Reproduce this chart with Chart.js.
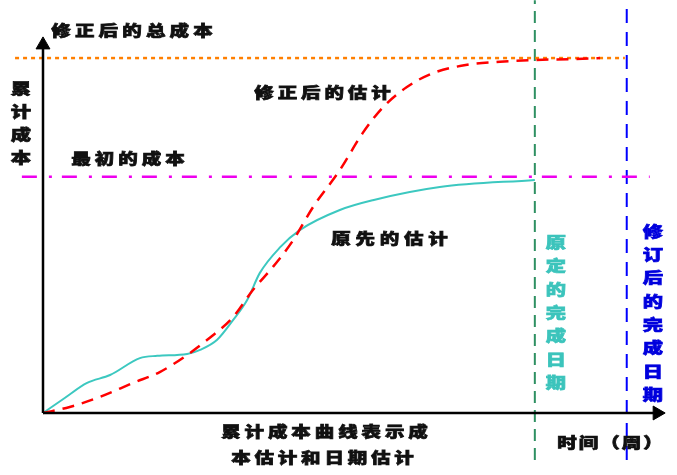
<!DOCTYPE html>
<html><head><meta charset="utf-8">
<script src="https://cdn.jsdelivr.net/npm/chart.js@4/dist/chart.umd.min.js"></script>
<style>html,body{margin:0;padding:0;background:#fff}#wrap{width:677px;height:475px}</style>
</head><body><div id="wrap"><canvas id="c"></canvas></div>
<script>
// Original estimate (原先的估计): weeks vs cumulative cost
const originalWeeks = [0,3.5,7.1,10.8,15.6,18.4,23.2,25.3,28.0,30.6,32.9,34.9,38.2,41.4,47.8,53.1,63.9,79.2];
const originalCost  = [0,4.0,8.0,10.1,14.6,15.2,15.7,16.8,19.4,24.7,30.1,37.2,44.1,48.7,54.0,56.6,60.1,62.0];
// Revised estimate (修正后的估计)
const revisedWeeks = [0,4.3,9.2,14.5,18.8,23.2,26.4,30.6,33.8,37.0,40.3,43.5,47.8,51.5,54.8,58.6,62.8,68.3,73.6,79.2,85.3,89.7];
const revisedCost  = [0,1.6,4.3,8.0,10.9,15.4,19.4,25.5,32.7,38.8,46.0,54.8,64.6,74.5,81.4,86.7,90.4,92.6,93.4,93.9,94.1,94.4];
// Reference levels
const initialBudget = 62.8;   // 最初的成本
const revisedBudget = 94.4;   // 修正后的总成本
const originalFinish = 79.2;  // 原定的完成日期
const revisedFinish = 94.0;   // 修订后的完成日期

const toPts = (xs, ys) => xs.map((x, i) => ({x, y: ys[i]}));

function hText(ctx, s, x0, x1, yc, color) {
  const size = 15, sx = 1.3, n = [...s].length;
  const g = 0.92 * size * sx;
  const pitch = n > 1 ? (x1 - x0 - g) / (n - 1) : 0;
  const ls = pitch / sx - size;
  ctx.save();
  ctx.translate(x0 - 0.04 * size * sx, yc);
  ctx.scale(sx, 1);
  ctx.font = '900 ' + size + 'px "Noto Sans CJK SC"';
  ctx.letterSpacing = ls + 'px';
  ctx.textBaseline = 'middle';
  ctx.textAlign = 'left';
  ctx.fillStyle = color || '#111';
  ctx.strokeStyle = color || '#111';
  ctx.lineWidth = 0.7;
  ctx.fillText(s, 0, 0);
  ctx.strokeText(s, 0, 0);
  ctx.restore();
}
function vText(ctx, s, xc, y0, pitch, color) {
  const size = 15, sx = 1.35;
  [...s].forEach((ch, i) => {
    ctx.save();
    ctx.translate(xc, y0 + i * pitch);
    ctx.scale(sx, 1);
    ctx.font = '900 ' + size + 'px "Noto Sans CJK SC"';
    ctx.textBaseline = 'middle';
    ctx.textAlign = 'center';
    ctx.fillStyle = color || '#111';
    ctx.strokeStyle = color || '#111';
    ctx.lineWidth = 0.7;
    ctx.fillText(ch, 0, 0);
    ctx.strokeText(ch, 0, 0);
    ctx.restore();
  });
}

const labels = {
  id: 'labels',
  afterDraw(chart) {
    const ctx = chart.ctx;
    hText(ctx, '修正后的总成本', 52, 212, 30);
    vText(ctx, '累计成本', 21, 88, 23);
    hText(ctx, '最初的成本', 72, 184, 158);
    hText(ctx, '修正后的估计', 255, 390, 92);
    hText(ctx, '原先的估计', 332, 447, 238);
    vText(ctx, '原定的完成日期', 556, 242, 23.4, '#3cc4bc');
    vText(ctx, '修订后的完成日期', 653, 231, 23.3, '#0000dd');
    hText(ctx, '累计成本曲线表示成', 222, 427, 431);
    hText(ctx, '本估计和日期估计', 232, 413, 457);
    hText(ctx, '时间（周）', 558, 662, 442);
  }
};

const base = {pointRadius: 0, clip: false, fill: false};
new Chart(document.getElementById('c'), {
  type: 'line',
  data: {
    datasets: [
      Object.assign({}, base, {order: 0, data: [{x:0,y:0},{x:0,y:97.9}], borderColor:'#000', borderWidth:2.5,
        pointRadius:[0,8], pointStyle:'triangle', pointRotation:[0,0], pointBackgroundColor:'#000', pointBorderColor:'#000', pointBorderWidth:1}),
      Object.assign({}, base, {order: 0, data: [{x:0,y:0},{x:98.9,y:0}], borderColor:'#000', borderWidth:2.5,
        pointRadius:[0,8], pointStyle:'triangle', pointRotation:[0,90], pointBackgroundColor:'#000', pointBorderColor:'#000', pointBorderWidth:1}),
      Object.assign({}, base, {order: 1, data: toPts(revisedWeeks, revisedCost), borderColor:'#ff0000', borderWidth:2.5,
        borderDash:[12,8], cubicInterpolationMode:'monotone'}),
      Object.assign({}, base, {order: 2, data: toPts(originalWeeks, originalCost), borderColor:'#3cc8c0', borderWidth:2,
        cubicInterpolationMode:'monotone'}),
      Object.assign({}, base, {order: 3, data: [{x:-4.5,y:revisedBudget},{x:93.7,y:revisedBudget}], borderColor:'#ff7f00', borderWidth:2.5, borderDash:[4,4]}),
      Object.assign({}, base, {order: 3, data: [{x:-3.4,y:initialBudget},{x:97.7,y:initialBudget}], borderColor:'#ee00ee', borderWidth:2.5, borderDash:[15,12,3,10]}),
      Object.assign({}, base, {order: 3, data: [{x:originalFinish,y:-12.5},{x:originalFinish,y:109.8}], borderColor:'#2e9062', borderWidth:2, borderDash:[12,7]}),
      Object.assign({}, base, {order: 3, data: [{x:revisedFinish,y:-12.5},{x:revisedFinish,y:109.8}], borderColor:'#0000ff', borderWidth:2, borderDash:[14,9]})
    ]
  },
  options: {
    responsive: true, maintainAspectRatio: false, animation: false, events: [],
    layout: {padding: {left: 43, right: 13, top: 37, bottom: 62}},
    scales: {
      x: {type: 'linear', min: 0, max: 100, display: false},
      y: {type: 'linear', min: 0, max: 100, display: false}
    },
    plugins: {legend: {display: false}, tooltip: {enabled: false}}
  },
  plugins: [labels]
});
</script>
</body></html>
